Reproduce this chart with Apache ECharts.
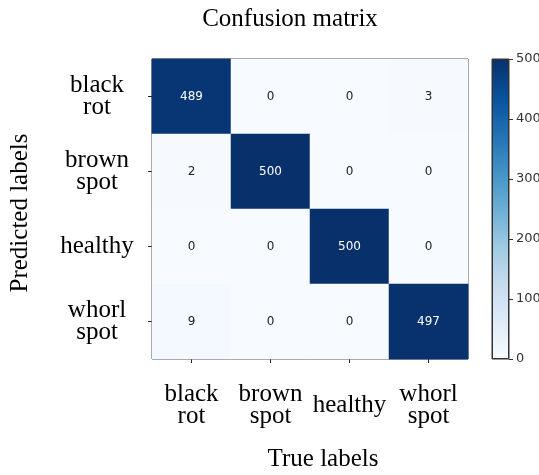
<!DOCTYPE html>
<html>
<head>
<meta charset="utf-8">
<script src="https://cdn.jsdelivr.net/npm/echarts@6/dist/echarts.min.js"></script>
<style>
  html, body { margin: 0; padding: 0; background: #fff; }
  #chart { width: 539px; height: 475px; }
</style>
</head>
<body>
<div id="chart"></div>
<script>
// Class names (true labels on x, predicted labels on y)
const classes = ['black\nrot', 'brown\nspot', 'healthy', 'whorl\nspot'];

// Counts, one row per predicted label
const rowBlackRot  = [489, 0, 0, 3];
const rowBrownSpot = [2, 500, 0, 0];
const rowHealthy   = [0, 0, 500, 0];
const rowWhorlSpot = [9, 0, 0, 497];

const colorbarTicks = [0, 100, 200, 300, 400, 500];
const colorMax = 500;

// Matplotlib "Blues" colour ramp
const blues = ['#f7fbff', '#deebf7', '#c6dbef', '#9ecae1', '#6baed6', '#4292c6', '#2171b5', '#08519c', '#08306b'];

const rows = [rowBlackRot, rowBrownSpot, rowHealthy, rowWhorlSpot];
const cells = [];
rows.forEach((row, y) => {
  row.forEach((v, x) => {
    cells.push({
      value: [x, y, v],
      label: { color: v > colorMax / 2 ? '#ffffff' : '#222222' }
    });
  });
});

const serif = '"Liberation Serif", "DejaVu Serif", serif';
const sans = '"DejaVu Sans", sans-serif';

const plot = { left: 152, top: 59, width: 316, height: 300 };
const bar = { left: 492, top: 59, width: 17, height: 300 };

const chart = echarts.init(document.getElementById('chart'));
chart.setOption({
  animation: false,
  backgroundColor: '#ffffff',
  title: {
    text: 'Confusion matrix',
    left: 285,
    top: 2,
    textAlign: 'center',
    textStyle: { fontFamily: serif, fontSize: 25, fontWeight: 'normal', color: '#000' }
  },
  grid: [
    Object.assign({ show: true, borderColor: '#222', borderWidth: 1, backgroundColor: 'transparent', outerBoundsMode: 'none', containLabel: false }, plot),
    Object.assign({ show: true, borderColor: '#333', borderWidth: 1, backgroundColor: 'transparent', outerBoundsMode: 'none', containLabel: false }, bar)
  ],
  xAxis: [
    {
      type: 'category',
      gridIndex: 0,
      data: classes,
      name: 'True labels',
      nameLocation: 'middle',
      nameGap: 88,
      nameTextStyle: { fontFamily: serif, fontSize: 25, color: '#000', padding: [0, 0, 0, 26] },
      axisLine: { show: false },
      axisTick: { show: true, alignWithLabel: true, interval: 0, length: 4, lineStyle: { color: '#222' } },
      axisLabel: {
        interval: 0,
        hideOverlap: false,
        fontFamily: serif, fontSize: 25, color: '#000', lineHeight: 22,
        align: 'center', verticalAlign: 'middle', margin: 46
      },
      splitLine: { show: false }
    },
    {
      type: 'category',
      gridIndex: 1,
      data: ['bar'],
      show: false
    }
  ],
  yAxis: [
    {
      type: 'category',
      gridIndex: 0,
      data: classes,
      inverse: true,
      name: 'Predicted labels',
      nameLocation: 'middle',
      nameGap: 119,
      nameRotate: 90,
      nameTextStyle: { fontFamily: serif, fontSize: 25, color: '#000', padding: [0, 8, 0, 0] },
      axisLine: { show: false },
      axisTick: { show: true, alignWithLabel: true, interval: 0, length: 4, lineStyle: { color: '#222' } },
      axisLabel: {
        interval: 0,
        hideOverlap: false,
        fontFamily: serif, fontSize: 25, color: '#000', lineHeight: 22,
        align: 'center', verticalAlign: 'middle', margin: 55
      },
      splitLine: { show: false }
    },
    {
      type: 'value',
      gridIndex: 1,
      min: 0,
      max: colorMax,
      interval: 100,
      position: 'right',
      axisLine: { show: false },
      axisTick: { show: true, length: 4, lineStyle: { color: '#333' } },
      axisLabel: {
        fontFamily: sans, fontSize: 13, color: '#333', margin: 7,
        customValues: colorbarTicks
      },
      splitLine: { show: false }
    }
  ],
  visualMap: {
    show: false,
    seriesIndex: 0,
    min: 0,
    max: colorMax,
    dimension: 2,
    inRange: { color: blues }
  },
  series: [
    {
      type: 'heatmap',
      xAxisIndex: 0,
      yAxisIndex: 0,
      data: cells,
      label: { show: true, fontFamily: sans, fontSize: 12 },
      itemStyle: { borderWidth: 0 },
      emphasis: { disabled: true }
    },
    {
      // colour bar
      type: 'bar',
      xAxisIndex: 1,
      yAxisIndex: 1,
      data: [colorMax],
      barWidth: '100%',
      silent: true,
      itemStyle: {
        borderColor: '#333',
        borderWidth: 1,
        color: new echarts.graphic.LinearGradient(0, 1, 0, 0,
          blues.map((c, i) => ({ offset: i / (blues.length - 1), color: c })))
      }
    }
  ]
});
</script>
</body>
</html>
